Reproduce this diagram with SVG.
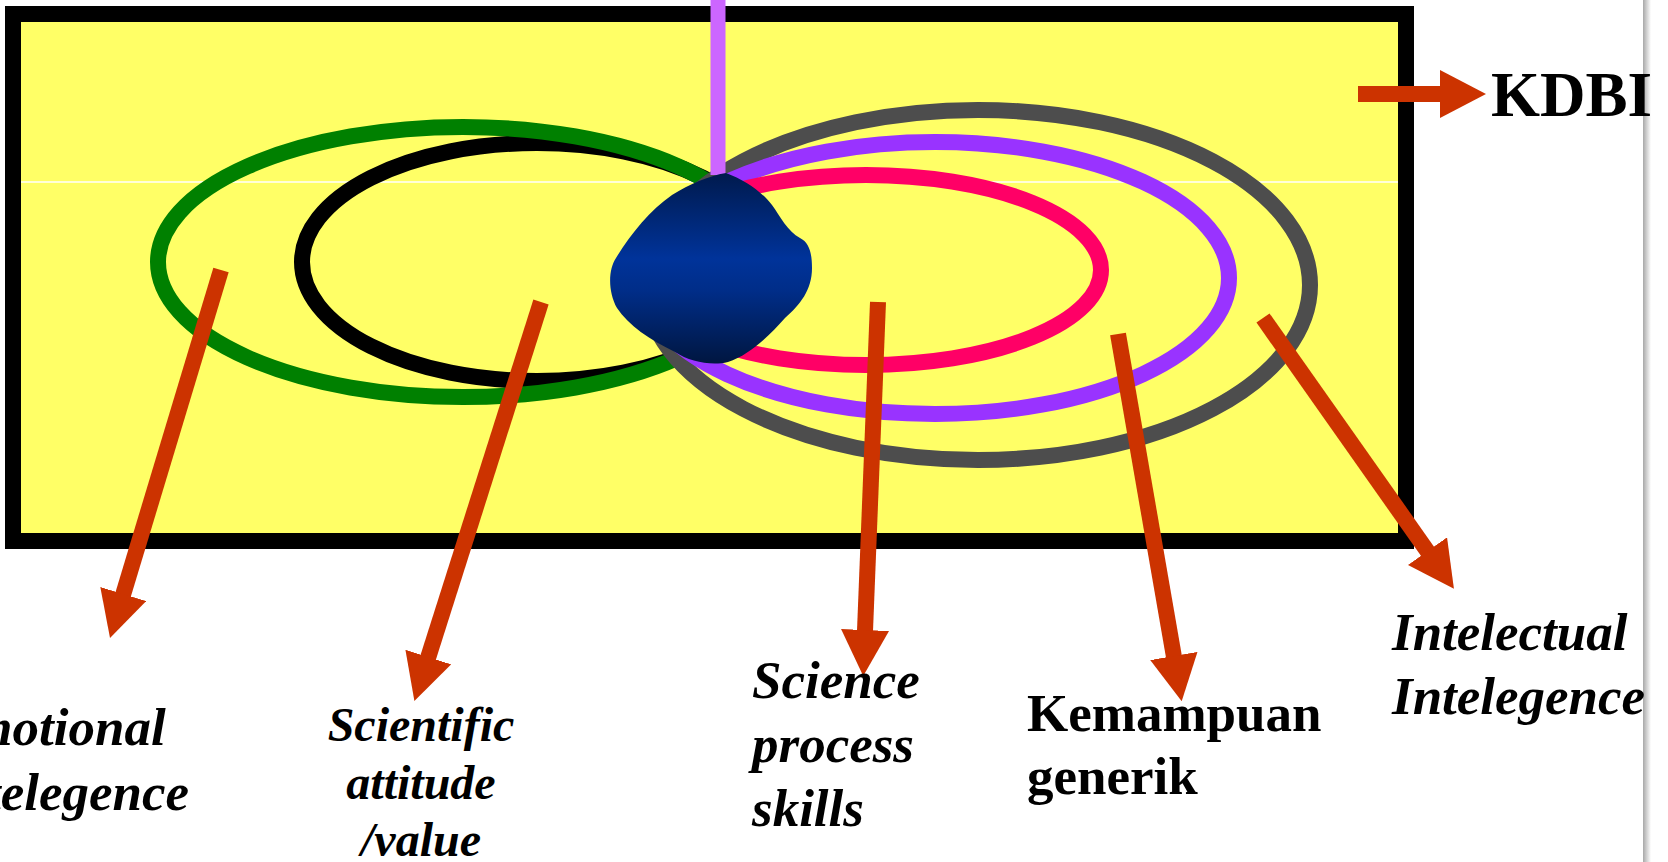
<svg xmlns="http://www.w3.org/2000/svg" width="1668" height="862" viewBox="0 0 1668 862">
<defs>
<style>
.lbl{font-family:"Liberation Serif","Times New Roman",serif;font-weight:bold;fill:#000}
.it{font-style:italic}
.ring{fill:none;stroke-width:16}
.arr{fill:none;stroke:#CC3300;stroke-width:16;marker-end:url(#head)}
</style>
<marker id="head" markerUnits="userSpaceOnUse" markerWidth="46" markerHeight="48" viewBox="0 0 46 48" refX="1" refY="24" orient="auto">
<path d="M0,0 L46,24 L0,48 Z" fill="#CC3300"/>
</marker>
<linearGradient id="blobGrad" x1="0" y1="0" x2="0" y2="1">
<stop offset="0" stop-color="#001A4D"/>
<stop offset="0.45" stop-color="#00339A"/>
<stop offset="0.62" stop-color="#002D88"/>
<stop offset="1" stop-color="#001640"/>
</linearGradient>
<linearGradient id="edgeGrad" x1="0" y1="0" x2="1" y2="0">
<stop offset="0" stop-color="#A8A8A8"/>
<stop offset="1" stop-color="#FFFFFF"/>
</linearGradient>
</defs>
<rect x="0" y="0" width="1668" height="862" fill="#FFFFFF"/>
<rect x="1643" y="0" width="8" height="862" fill="url(#edgeGrad)"/>

<g id="frame">
<rect x="13" y="14" width="1393" height="527" fill="#FFFF66" stroke="#000" stroke-width="16"/>
<line x1="21" y1="182" x2="1398" y2="182" stroke="#FFFFFF" stroke-width="1.5"/>
</g>

<g id="ring-scientific-attitude"><ellipse class="ring" cx="537" cy="262" rx="235" ry="119" stroke="#000000"/></g>
<g id="ring-emotional"><ellipse class="ring" cx="463" cy="262" rx="305" ry="135" stroke="#008000"/></g>
<g id="ring-intelectual"><ellipse class="ring" cx="978" cy="285" rx="332" ry="175" stroke="#4D4D4D"/></g>
<g id="ring-kemampuan"><ellipse class="ring" cx="935" cy="278" rx="294" ry="136" stroke="#9933FF"/></g>
<g id="ring-science-process"><ellipse class="ring" cx="866" cy="270" rx="235" ry="95" stroke="#FF0066"/></g>

<g id="connectors">
<line x1="718" y1="0" x2="718" y2="175" stroke="#CC66FF" stroke-width="15"/>
<line class="arr" x1="221" y1="270" x2="123" y2="595"/>
<line class="arr" x1="541" y1="302" x2="428" y2="658"/>
<line class="arr" x1="878" y1="302" x2="865" y2="631"/>
<line class="arr" x1="1118" y1="334" x2="1174" y2="657"/>
<line class="arr" x1="1263" y1="318" x2="1428" y2="552"/>
<line class="arr" x1="1358" y1="94" x2="1441" y2="94"/>
</g>

<g id="core">
<path d="M726,173 C745,180 762,192 772,205 C780,216 788,232 800,238 C810,243 812,255 812,268 C812,290 800,305 785,318 C770,335 750,355 728,362 C712,366 690,362 675,352 C650,340 628,325 617,308 C608,292 608,270 616,258 C630,235 650,210 672,195 C690,184 708,176 726,173 Z" fill="url(#blobGrad)"/>
</g>

<g id="label-kdbi"><text class="lbl" x="1491" y="116" font-size="63">KDBI</text></g>
<g id="label-emotional"><text class="lbl it" font-size="53"><tspan x="-64" y="745">Emotional</tspan><tspan x="-64" y="810">Intelegence</tspan></text></g>
<g id="label-scientific"><text class="lbl it" font-size="48" text-anchor="middle"><tspan x="421" y="741">Scientific</tspan><tspan x="421" y="799">attitude</tspan><tspan x="421" y="856">/value</tspan></text></g>
<g id="label-science-process"><text class="lbl it" font-size="53"><tspan x="752" y="698">Science</tspan><tspan x="752" y="762">process</tspan><tspan x="752" y="826">skills</tspan></text></g>
<g id="label-kemampuan"><text class="lbl" font-size="53"><tspan x="1027" y="731">Kemampuan</tspan><tspan x="1027" y="794">generik</tspan></text></g>
<g id="label-intelectual"><text class="lbl it" font-size="53"><tspan x="1392" y="650">Intelectual</tspan><tspan x="1392" y="714">Intelegence</tspan></text></g>
</svg>
